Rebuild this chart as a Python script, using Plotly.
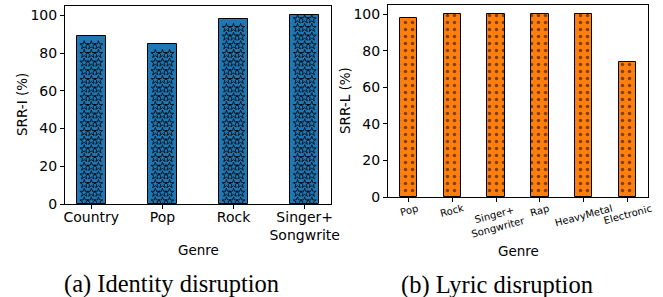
import plotly.graph_objects as go

# ---- data ----
genres_i = ["Country", "Pop", "Rock", "Singer+<br>Songwrite"]
srr_i = [89, 85, 98, 100]

genres_l = ["Pop", "Rock", "Singer+<br>Songwriter", "Rap", "HeavyMetal", "Electronic"]
srr_l = [98, 100, 100, 100, 100, 74]

y_ticks = [0, 20, 40, 60, 80, 100]
BLUE = "#1f77b4"
ORANGE = "#ff7f0e"
FONT = "DejaVu Sans"
SERIF = "Liberation Serif"
BAR_W = 0.4
W, H = 663, 297


def px(x):
    return x / W


def py(y):
    return (H - y) / H


fig = go.Figure()

pos_i = list(range(len(genres_i)))
pos_l = list(range(len(genres_l)))

fig.add_trace(go.Bar(
    x=pos_i, y=srr_i, width=BAR_W, xaxis="x", yaxis="y",
    marker=dict(color=BLUE, line=dict(color="black", width=1)),
    showlegend=False, hoverinfo="skip"))

# star hatch overlay, generated from the bar values
sx, sy = [], []
for p, v in zip(pos_i, srr_i):
    k = 0
    while True:
        yy = 1.4 + 4.6 * k
        if yy > v - 2:
            break
        for off in (-0.1, 0.0, 0.1):
            sx.append(p + off)
            sy.append(yy)
        k += 1
fig.add_trace(go.Scatter(
    x=sx, y=sy, mode="markers", xaxis="x", yaxis="y",
    marker=dict(symbol="star-open", size=6.5, color="black", line=dict(width=0.8, color="black")),
    showlegend=False, hoverinfo="skip"))

fig.add_trace(go.Bar(
    x=pos_l, y=srr_l, width=BAR_W, xaxis="x2", yaxis="y2",
    marker=dict(color=ORANGE, line=dict(color="black", width=1),
                pattern=dict(shape=".", fgcolor="black", bgcolor=ORANGE, size=7, solidity=0.2)),
    showlegend=False, hoverinfo="skip"))

axis_common = dict(showline=True, linecolor="black", linewidth=1, mirror=True,
                   ticks="outside", ticklen=4, tickwidth=1, tickcolor="black",
                   showgrid=False, zeroline=False, automargin=False)

fig.update_layout(
    width=W, height=H,
    margin=dict(l=0, r=0, t=0, b=0),
    paper_bgcolor="white", plot_bgcolor="white",
    font=dict(family=FONT, color="black"),
    bargap=0,
    xaxis=dict(domain=[px(65), px(331)], anchor="y", range=[-0.37, 3.37],
               tickvals=pos_i, ticktext=genres_i, tickangle=0,
               tickfont=dict(size=14), **axis_common),
    yaxis=dict(domain=[py(204), py(6)], anchor="x", range=[0, 105],
               tickvals=y_ticks, tickfont=dict(size=14), **axis_common),
    xaxis2=dict(domain=[px(388), px(648)], anchor="y2", range=[-0.47, 5.47],
                tickvals=pos_l, ticktext=[""] * len(pos_l), **axis_common),
    yaxis2=dict(domain=[py(197), py(5)], anchor="x2", range=[0, 105],
                tickvals=y_ticks, tickfont=dict(size=14), **axis_common),
)

# bring the x tick labels a little closer to the axis, if supported
try:
    fig.update_layout(xaxis=dict(ticklabelstandoff=-4))
except Exception:
    pass

# rotated tick labels for right panel, centred on each tick
for p, g in zip(pos_l, genres_l):
    fig.add_annotation(text=g, x=p, xref="x2", y=py(200), yref="paper",
                       yanchor="top", xanchor="center", textangle=-15, showarrow=False,
                       font=dict(size=10, family=FONT), align="center")

texts = [
    ("SRR-I (%)", 22, 105, -90, 13.5, FONT),
    ("SRR-L (%)", 345, 101, -90, 13.5, FONT),
    ("Genre", 198, 250, 0, 13.5, FONT),
    ("Genre", 518, 251, 0, 13.5, FONT),
    ("(a) Identity disruption", 171.5, 284, 0, 24.5, SERIF),
    ("(b) Lyric disruption", 497, 285, 0, 24.5, SERIF),
]
for t, x, y, ang, sz, fam in texts:
    fig.add_annotation(text=t, x=px(x), y=py(y), xref="paper", yref="paper",
                       xanchor="center", yanchor="middle", textangle=ang,
                       showarrow=False, font=dict(size=sz, family=fam))

fig.write_html("out.html", config={"displayModeBar": False},
               post_script="document.body.style.margin='0px';document.body.style.overflow='hidden';")
